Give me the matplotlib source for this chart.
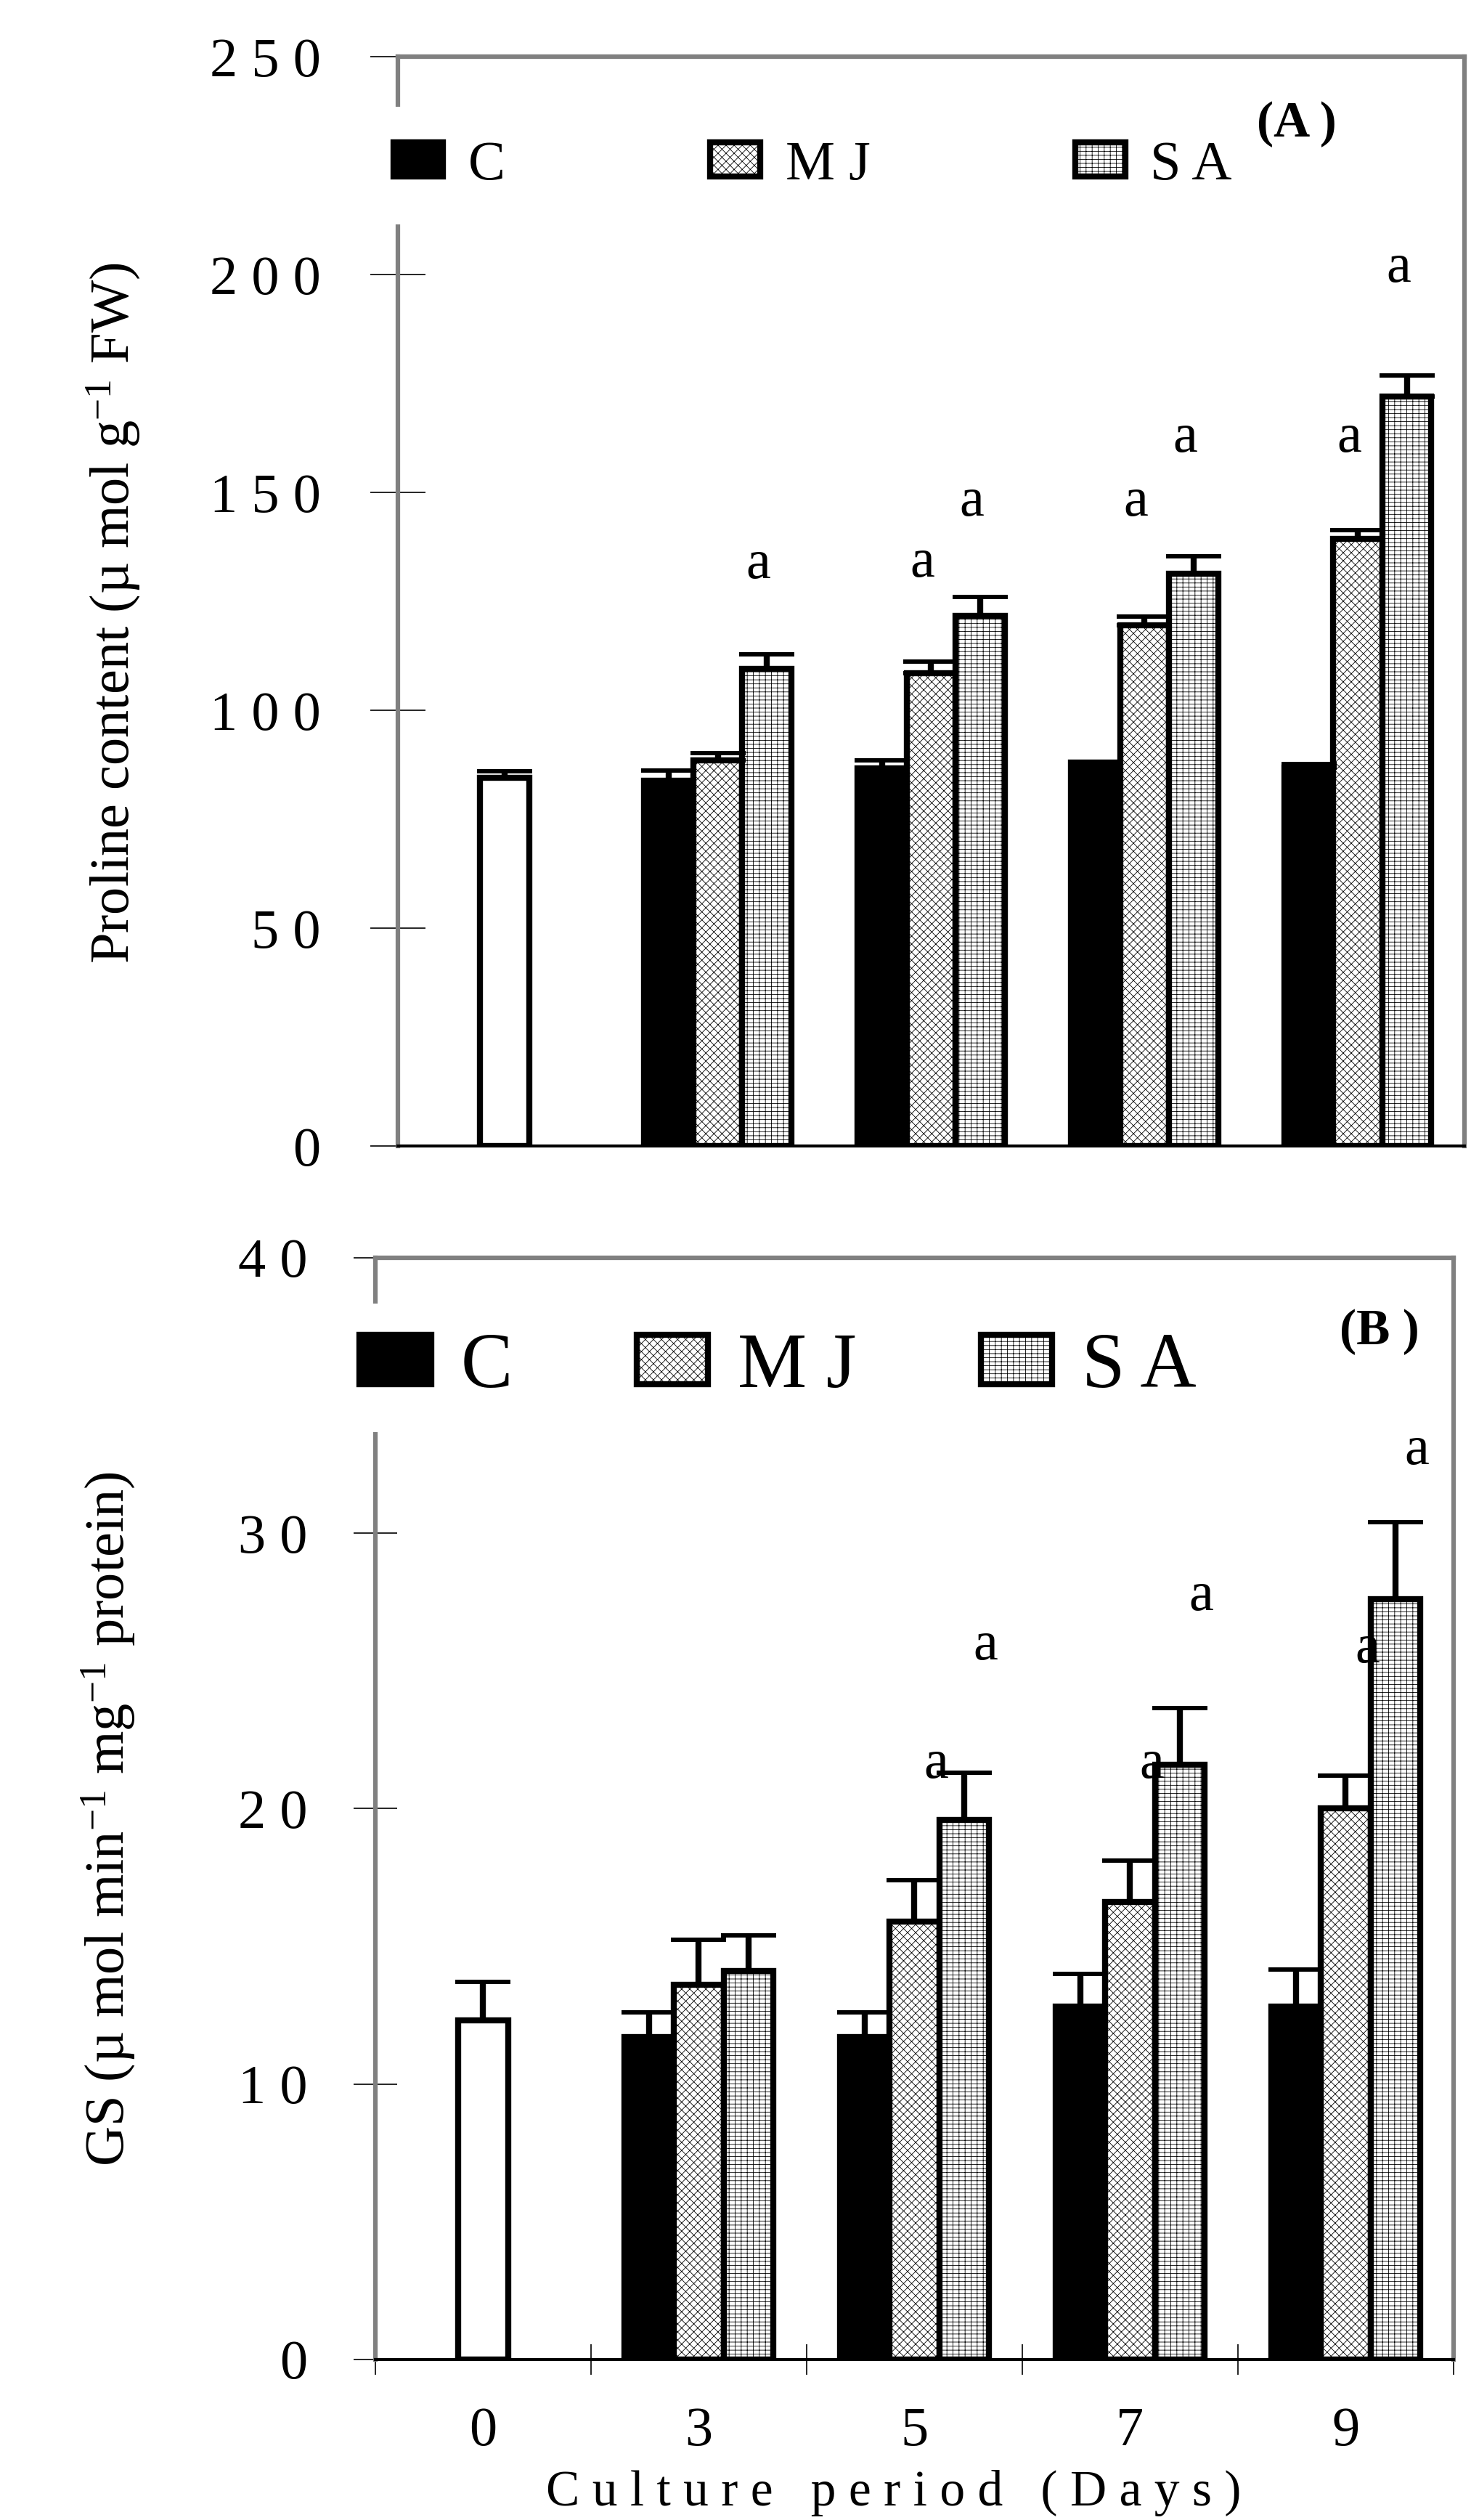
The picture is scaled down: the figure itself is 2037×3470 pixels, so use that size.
import matplotlib.pyplot as plt
import numpy as np

plt.rcParams['font.family'] = 'Liberation Serif'
plt.rcParams['mathtext.fontset'] = 'custom'
plt.rcParams['mathtext.rm'] = 'Liberation Serif'
plt.rcParams['mathtext.it'] = 'Liberation Serif:italic'
plt.rcParams['hatch.linewidth'] = 0.6

days = ['0', '3', '5', '7', '9']
series = ['C', 'M J', 'S A']

# (A) proline content
pro_day0 = 84.5
pro_day0_err = 1.6
pro_c = [83.9, 86.7, 88.1, 86.9]
pro_c_err = [2.3, 1.9, 0.0, 0.8]
pro_mj = [88.6, 108.5, 119.5, 139.3]
pro_mj_err = [1.6, 2.7, 2.0, 2.0]
pro_sa = [109.6, 121.7, 131.3, 172.0]
pro_sa_err = [3.2, 4.3, 4.0, 4.8]
pro_ticks = [0, 50, 100, 150, 200, 250]
# letters: day index, series index, height
pro_a_day = [1, 2, 2, 3, 3, 4, 4]
pro_a_ser = [2, 1, 2, 1, 2, 1, 2]
pro_a_y = [133.5, 133.8, 147.8, 147.8, 162.4, 162.4, 201.5]

# (B) GS activity
gs_day0 = 12.3
gs_day0_err = 1.4
gs_c = [11.7, 11.7, 12.8, 12.8]
gs_c_err = [0.9, 0.9, 1.2, 1.35]
gs_mj = [13.6, 15.9, 16.6, 20.0]
gs_mj_err = [1.65, 1.5, 1.5, 1.2]
gs_sa = [14.1, 19.6, 21.6, 27.6]
gs_sa_err = [1.3, 1.7, 2.05, 2.8]
gs_ticks = [0, 10, 20, 30, 40]
gs_a_day = [2, 2, 3, 3, 4, 4]
gs_a_ser = [1, 2, 1, 2, 1, 2]
gs_a_y = [21.6, 25.9, 21.6, 27.7, 25.8, 33.0]

fills = ['black', 'white', 'white']
hatches = [None, 'xxx', '---||']
w = 0.23
offsets = [-w, 0, w]
gray = '#808080'


def panel(ax, day0, day0_err, vals, errs, ticks, ymax, a_day, a_ser, a_y, a_shift):
    x = np.arange(len(days))
    grp = x[1:]
    ax.bar(x[0], day0, w, color='white', edgecolor='black', linewidth=6, zorder=2)
    handles = []
    for i in range(3):
        b = ax.bar(grp + offsets[i], vals[i], w, color=fills[i], edgecolor='black',
                   linewidth=6, hatch=hatches[i], zorder=2)
        handles.append(b)
    ax.errorbar(x[0], day0, yerr=[[0], [day0_err]], fmt='none', ecolor='black',
                elinewidth=6, capsize=27.5, capthick=4.3, zorder=3)
    for i in range(3):
        e = np.array(errs[i])
        ax.errorbar(grp + offsets[i], vals[i], yerr=[np.zeros(len(e)), e], fmt='none',
                    ecolor='black', elinewidth=6, capsize=27.5, capthick=4.3, zorder=3)
    for d, s, yy in zip(a_day, a_ser, a_y):
        ax.text(x[d] + offsets[s] + a_shift, yy, 'a', ha='center', va='center',
                fontsize=55, zorder=4)
    ax.set_xlim(-0.5, 4.5)
    ax.set_ylim(0, ymax)
    ax.set_yticks(ticks, [' '.join(str(t)) for t in ticks])
    for s in ['top', 'right', 'left']:
        ax.spines[s].set_color(gray)
        ax.spines[s].set_linewidth(4.5)
    ax.spines['bottom'].set_color('black')
    ax.spines['bottom'].set_linewidth(3)
    return handles


fig = plt.figure(figsize=(20.37, 34.70), dpi=100)

# top panel
ax1 = fig.add_axes([0.2690, 0.5452, 0.7212, 0.4323])
h1 = panel(ax1, pro_day0, pro_day0_err, [pro_c, pro_mj, pro_sa],
           [pro_c_err, pro_mj_err, pro_sa_err], pro_ticks, 250,
           pro_a_day, pro_a_ser, pro_a_y, -0.04)
ax1.set_xticks([])
ax1.tick_params(axis='y', direction='inout', length=55, width=1.2, color='black',
                pad=49, labelsize=55)
ax1.legend(h1, series, ncol=3, loc='center left', bbox_to_anchor=(-0.68, 225),
           bbox_transform=ax1.transData, fontsize=55, handlelength=0.9,
           handleheight=0.58, handletextpad=0.45, columnspacing=3.7,
           borderpad=0.61, borderaxespad=0, facecolor='white', edgecolor='none',
           framealpha=1, fancybox=False)
ax1.text(3.714, 234.5, '(A )', ha='center', va='center', fontsize=50,
         fontweight='bold', zorder=6)

# bottom panel
ax2 = fig.add_axes([0.2538, 0.0637, 0.7290, 0.4372])
h2 = panel(ax2, gs_day0, gs_day0_err, [gs_c, gs_mj, gs_sa],
           [gs_c_err, gs_mj_err, gs_sa_err], gs_ticks, 40,
           gs_a_day, gs_a_ser, gs_a_y, 0.1)
ax2.set_xticks(np.arange(len(days)), days)
ax2.set_xticks(np.arange(-0.5, 5, 1), minor=True)
ax2.tick_params(axis='x', which='major', length=0, pad=47, labelsize=55)
ax2.tick_params(axis='x', which='minor', direction='inout', length=30, width=1.2)
ax2.tick_params(axis='y', direction='inout', length=43, width=1.2, color='black',
                pad=46, labelsize=55)
ax2.legend(h2, series, ncol=3, loc='center left', bbox_to_anchor=(-0.706, 36.0),
           bbox_transform=ax2.transData, fontsize=77, handlelength=0.92,
           handleheight=0.61, handletextpad=0.38, columnspacing=1.6,
           borderpad=0.37, borderaxespad=0, facecolor='white', edgecolor='none',
           framealpha=1, fancybox=False)
ax2.text(4.156, 37.3, '(B )', ha='center', va='center', fontsize=50,
         fontweight='bold', zorder=6)

fig.text(0.077, 0.7568, r'Proline content (µ mol g$^{-1}$ FW)', rotation=90,
         ha='center', va='center', fontsize=55)
fig.text(0.0736, 0.2781, r'GS (µ mol min$^{-1}$ mg$^{-1}$ protein)', rotation=90,
         ha='center', va='center', fontsize=55)
fig.text(0.6043, 0.0058, 'C u l t u r e   p e r i o d   ( D a y s )',
         ha='center', va='baseline', fontsize=50)

fig.savefig('out.png', dpi=100)
